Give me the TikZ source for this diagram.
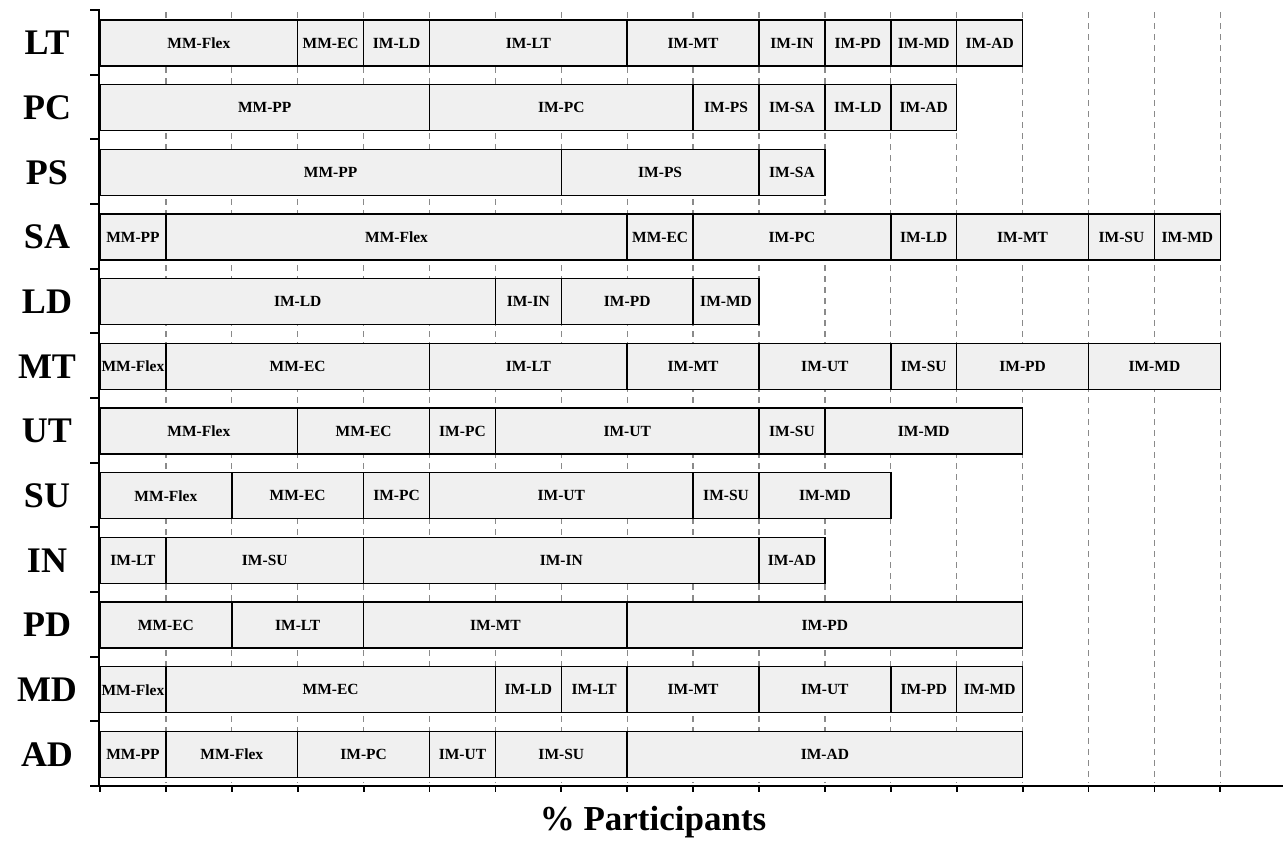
\documentclass[tikz,border=0pt]{standalone}
\usepackage{fontspec}
\setmainfont{Liberation Serif}
\definecolor{barfill}{HTML}{F0F0F0}
\definecolor{gridgray}{HTML}{8A8A8A}
\begin{document}
\begin{tikzpicture}[x=1pt,y=-1pt,
  barbox/.style={draw=black, line width=1.5pt, fill=barfill, inner sep=0pt, outer sep=0pt,
    font=\fontsize{15.5}{16}\selectfont\bfseries},
  gridline/.style={draw=gridgray, line width=1.3pt, dash pattern=on 6pt off 5pt},
  rowlab/.style={font=\fontsize{36}{40}\selectfont\bfseries, inner sep=0pt},
  axisline/.style={line width=1.8pt},
  titlelab/.style={font=\fontsize{35}{40}\selectfont\bfseries, inner sep=0pt}]
\useasboundingbox (0,0) rectangle (1283,844);
\def\u{65.9}
\def\rh{64.67}
% grid
\foreach \k in {1,...,17}{
  \draw[gridline] ({100+\k*\u},12) -- ({100+\k*\u},783);
}
% bars
\foreach \lab/\segs [count=\i from 0] in {
  LT/{0/3/MM-Flex,3/4/MM-EC,4/5/IM-LD,5/8/IM-LT,8/10/IM-MT,10/11/IM-IN,11/12/IM-PD,12/13/IM-MD,13/14/IM-AD},
  PC/{0/5/MM-PP,5/9/IM-PC,9/10/IM-PS,10/11/IM-SA,11/12/IM-LD,12/13/IM-AD},
  PS/{0/7/MM-PP,7/10/IM-PS,10/11/IM-SA},
  SA/{0/1/MM-PP,1/8/MM-Flex,8/9/MM-EC,9/12/IM-PC,12/13/IM-LD,13/15/IM-MT,15/16/IM-SU,16/17/IM-MD},
  LD/{0/6/IM-LD,6/7/IM-IN,7/9/IM-PD,9/10/IM-MD},
  MT/{0/1/MM-Flex,1/5/MM-EC,5/8/IM-LT,8/10/IM-MT,10/12/IM-UT,12/13/IM-SU,13/15/IM-PD,15/17/IM-MD},
  UT/{0/3/MM-Flex,3/5/MM-EC,5/6/IM-PC,6/10/IM-UT,10/11/IM-SU,11/14/IM-MD},
  SU/{0/2/MM-Flex,2/4/MM-EC,4/5/IM-PC,5/9/IM-UT,9/10/IM-SU,10/12/IM-MD},
  IN/{0/1/IM-LT,1/4/IM-SU,4/10/IM-IN,10/11/IM-AD},
  PD/{0/2/MM-EC,2/4/IM-LT,4/8/IM-MT,8/14/IM-PD},
  MD/{0/1/MM-Flex,1/6/MM-EC,6/7/IM-LD,7/8/IM-LT,8/10/IM-MT,10/12/IM-UT,12/13/IM-PD,13/14/IM-MD},
  AD/{0/1/MM-PP,1/3/MM-Flex,3/5/IM-PC,5/6/IM-UT,6/8/IM-SU,8/14/IM-AD}}{
  \pgfmathsetmacro{\yc}{10+\i*\rh+33}
  \node[rowlab] (lab\i) at (47,\yc) {\lab};
  \foreach \s/\e/\t [count=\j] in \segs {
    \pgfmathsetmacro{\xc}{100+(\s+\e)/2*\u}
    \pgfmathsetmacro{\w}{(\e-\s)*\u}
    \node[barbox, minimum width=\w pt, minimum height=46pt] (bar\i-\j) at (\xc,\yc) {\t};
  }
}
% axes
\draw[axisline] (99,9) -- (99,787);
\foreach \r in {0,...,12}{
  \draw[axisline] (90,{10+\r*\rh}) -- (99,{10+\r*\rh});
}
\draw[axisline] (98,786) -- (1283,786);
\foreach \k in {0,...,17}{
  \draw[axisline] ({100+\k*\u},786) -- ({100+\k*\u},792);
}
\node[titlelab] (title) at (653,822) {\% Participants};
\end{tikzpicture}
\end{document}
